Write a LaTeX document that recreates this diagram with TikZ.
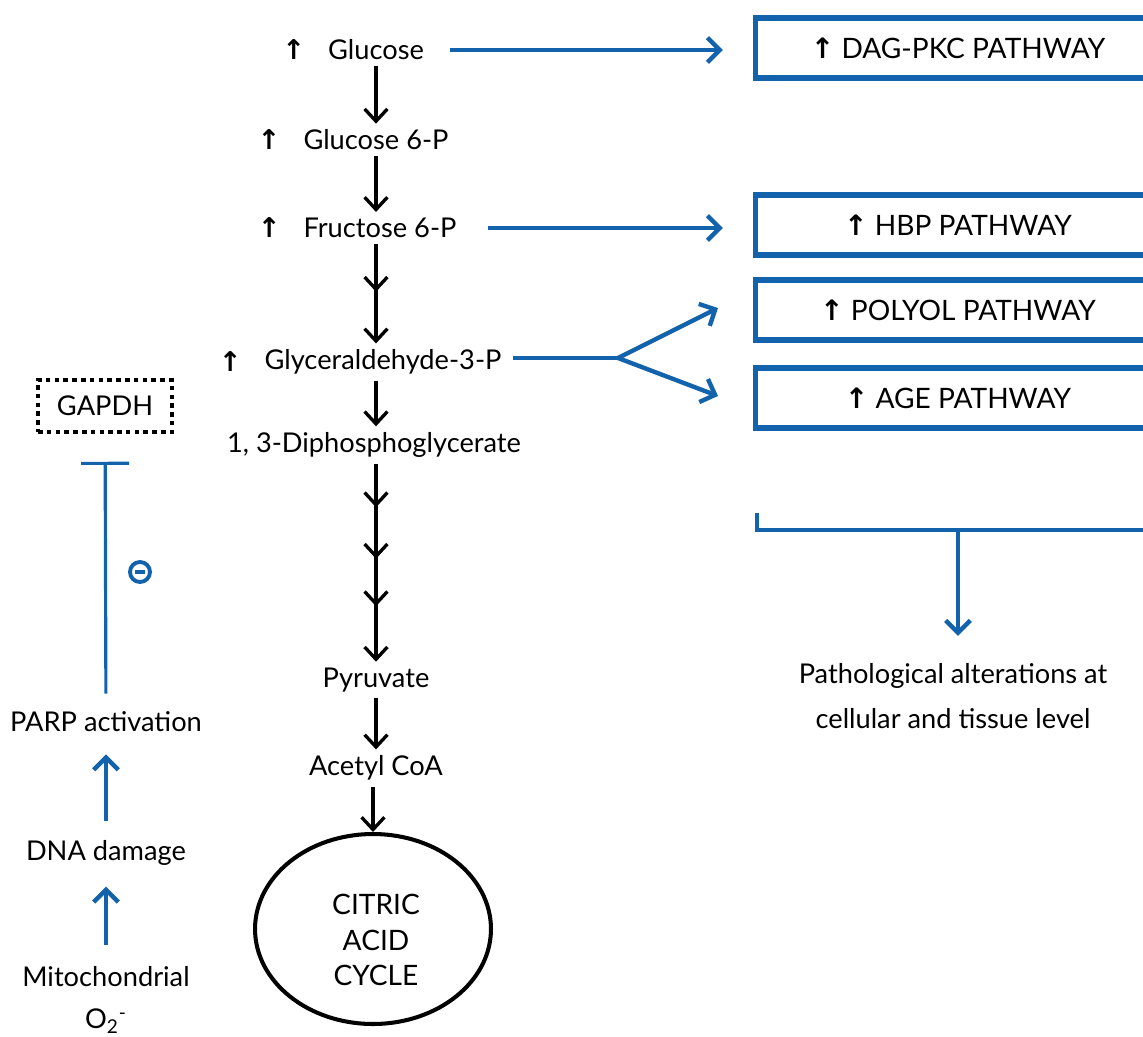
\documentclass[tikz,border=0pt]{standalone}
\usepackage{fontspec}
\setmainfont{Lato}
\newfontfamily\symfont{DejaVu Sans}
\usepackage{tikz}
\usetikzlibrary{arrows.meta, shapes.geometric, decorations.markings}

\definecolor{pathblue}{RGB}{18,99,172}
\newcommand{\diafont}{\fontsize{15.5pt}{19pt}\selectfont}
\newcommand{\upsym}{{\symfont\bfseries ↑}}

\tikzset{
  flow/.style={line width=1.9pt, -{Straight Barb[length=7pt,width=13pt]}},
  blueflow/.style={draw=pathblue, line width=2.5pt, -{Straight Barb[length=7pt,width=14pt]}},
  pathbox/.style={draw=pathblue, line width=3pt, minimum width=8.1cm, minimum height=1.2cm,
                  font=\fontsize{16pt}{19pt}\selectfont},
  uparr/.style={label={[label distance=6pt, font=\diafont]left:\upsym}}
}

\begin{document}
\begin{tikzpicture}[x=0.02cm, y=-0.02cm]
\clip (0,0) rectangle (1143,1036);
%\tikzstyle{place}=[circle,draw=blue!50,fill=blue!20,thick,inner sep=0pt,minimum size=6mm]
\begin{scope}[every node/.style={font=\diafont}]
    \node[uparr] (glu) at (376,50)  {Glucose};
    \node[uparr] (g6p) at (376,140) {Glucose 6-P};
    \node[uparr] (f6p) at (380,228) {Fructose 6-P};
    \node[uparr] (gly) at (383,362) {Glyceraldehyde-3-P};
    \node (dpg) at (374,445) {1, 3-Diphosphoglycerate};
    \node (pyr) at (376,680) {Pyruvate};
    \node (aco) at (376,768) {Acetyl CoA};
    \node[ellipse, draw, line width=2.3pt, minimum width=4.72cm, minimum height=3.8cm] (tca) at (373,929) {};
    \node[align=center, font=\fontsize{16pt}{20pt}\selectfont] (tcatxt) at (376,940) {CITRIC\\ACID\\CYCLE};

    \node[pathbox] (dag)  at (958,48)  {\upsym\ DAG-PKC PATHWAY};
    \node[pathbox] (hbp)  at (958,225) {\upsym\ HBP PATHWAY};
    \node[pathbox] (poly) at (958,310) {\upsym\ POLYOL PATHWAY};
    \node[pathbox] (age)  at (958,398) {\upsym\ AGE PATHWAY};
    \node[align=center, font=\fontsize{15.5pt}{26pt}\selectfont] (patho) at (953,696)
        {Pathological alterations at\\cellular and tissue level};

    \node[draw, line width=2pt, dash pattern=on 2.6pt off 2.4pt, minimum width=2.68cm,
          minimum height=1.04cm] (gapdh) at (105,406) {GAPDH};
    \node (parp) at (106,722) {PARP activation};
    \node (dna) at (106,853) {DNA damage};
    \node[align=center, font=\fontsize{15.5pt}{24pt}\selectfont] (mito) at (106,1000)
        {Mitochondrial\\O\textsubscript{2}\textsuperscript{-}};
    \node[circle, draw=pathblue, line width=2.2pt, minimum size=0.4cm, inner sep=0pt,
          text=pathblue] (minus) at (140,572) {\rule{5.5pt}{2.2pt}};
\end{scope}

% glycolysis chain
\draw[flow] (glu) -- (g6p);
\draw[flow] (g6p) -- (f6p.north -| g6p);
\draw[flow, decoration={markings, mark=at position 0.48 with {\arrow{Straight Barb[length=7pt,width=13pt]}}},
      postaction={decorate}] (f6p.south -| g6p) -- (gly.north -| g6p);
\draw[flow] (gly.south -| g6p) -- (dpg.north -| g6p);
\draw[flow, decoration={markings,
        mark=at position 0.22 with {\arrow{Straight Barb[length=7pt,width=13pt]}},
        mark=at position 0.48 with {\arrow{Straight Barb[length=7pt,width=13pt]}},
        mark=at position 0.72 with {\arrow{Straight Barb[length=7pt,width=13pt]}}},
      postaction={decorate}] (dpg.south -| g6p) -- (pyr.north -| g6p);
\draw[flow] (pyr) -- (aco);
\draw[flow] (aco.south -| tca) -- (tca.north);

% side pathways
\coordinate (fork) at (618,358);
\coordinate (polyin) at (718,308);
\coordinate (agein) at (718,396);
\draw[blueflow, shorten <=0.4cm, shorten >=0.6cm] (glu.east) -- (glu.east -| dag.west);
\draw[blueflow, shorten <=0.5cm, shorten >=0.6cm] (f6p.east) -- (f6p.east -| hbp.west);
\draw[draw=pathblue, line width=2.5pt, shorten <=0.1cm] (gly.east |- fork) -- (fork);
\draw[blueflow] (fork) -- (polyin);
\draw[blueflow] (fork) -- (agein);

% bracket to outcome
\coordinate (bl) at (757,513);
\coordinate (bm) at (958,530);
\draw[draw=pathblue, line width=2.8pt] (bl) |- (1160,530);
\draw[blueflow, shorten >=0.42cm] (bm) -- (bm |- patho.north);

% oxidative stress branch
\draw[blueflow, shorten <=0.3cm, shorten >=0.3cm] (mito) -- (dna);
\draw[blueflow, shorten <=0.26cm, shorten >=0.32cm] (dna) -- (parp);
\draw[draw=pathblue, line width=1.8pt, -{Bar[width=0.96cm]}, shorten <=0.24cm, shorten >=0.56cm]
    (parp) -- (gapdh);
\end{tikzpicture}
\end{document}
